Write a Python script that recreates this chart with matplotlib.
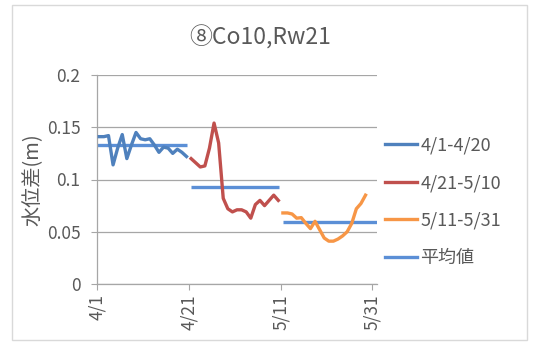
import matplotlib
matplotlib.use("Agg")
import matplotlib.pyplot as plt
from matplotlib.patches import Rectangle
from matplotlib.lines import Line2D
import numpy as np

plt.rcParams['font.family'] = ['Noto Sans CJK JP', 'DejaVu Sans']

title = "⑧Co10,Rw21"
ylabel = "水位差(m)"
series_labels = ["4/1-4/20", "4/21-5/10", "5/11-5/31"]
mean_label = "平均値"

# day offsets from 4/1 of first reading in each period (readings taken mid-day)
period_start = [0, 20, 40]
period_end = [20, 40, 61]

blue_vals = [0.141, 0.141, 0.142, 0.114, 0.130, 0.143, 0.120, 0.133, 0.145, 0.139,
             0.138, 0.139, 0.133, 0.126, 0.131, 0.130, 0.125, 0.129, 0.126, 0.122]
red_vals = [0.120, 0.116, 0.112, 0.113, 0.130, 0.154, 0.135, 0.082, 0.072, 0.069,
            0.071, 0.071, 0.069, 0.063, 0.076, 0.080, 0.075, 0.080, 0.085, 0.080]
orange_vals = [0.068, 0.068, 0.067, 0.063, 0.0635, 0.058, 0.053, 0.060, 0.052, 0.044,
               0.041, 0.041, 0.043, 0.046, 0.050, 0.058, 0.072, 0.077, 0.085]
mean_vals = [0.133, 0.0925, 0.059]

xtick_days = [0, 20, 40, 60]
xtick_labels = ["4/1", "4/21", "5/11", "5/31"]
ytick_vals = [0, 0.05, 0.1, 0.15, 0.2]
ytick_labels = ["0", "0.05", "0.1", "0.15", "0.2"]

colors = ["#4F81BD", "#C0504D", "#F79646"]
mean_color = "#5B8FD6"
text_color = "#595959"
grid_color = "#A6A6A6"

fig = plt.figure(figsize=(5.46, 3.45), dpi=100)
fig.patches.append(Rectangle((12/546, 1-340/345), (527-12)/546, (340-5)/345,
                             transform=fig.transFigure, fill=False,
                             edgecolor="#D9D9D9", linewidth=1.0))

ax = fig.add_axes([97/546, 1-284/345, 280/546, 209/345])

for i, vals in enumerate([blue_vals, red_vals, orange_vals]):
    x = period_start[i] + 0.5 + np.arange(len(vals))
    ax.plot(x, vals, color=colors[i], lw=2.4, solid_joinstyle='round', zorder=3)

for i, m in enumerate(mean_vals):
    ax.plot([period_start[i] + (0.5 if i else 0), period_end[i] - (0.4 if i < 2 else 0)],
            [m, m], color=mean_color, lw=2.4, solid_capstyle='butt', zorder=2)

ax.set_xlim(0, 61)
ax.set_ylim(0, 0.2)
ax.set_xticks(xtick_days)
ax.set_xticklabels(xtick_labels, rotation=90, color=text_color, fontsize=12.5)
ax.set_yticks(ytick_vals)
ax.set_yticklabels(ytick_labels, color=text_color, fontsize=12.5)
ax.tick_params(axis='both', direction='out', length=4, color=grid_color, width=0.8)
ax.tick_params(axis='y', pad=8)
ax.yaxis.grid(True, color=grid_color, lw=0.9)
ax.set_axisbelow(True)
for s in ['top', 'right']:
    ax.spines[s].set_visible(False)
for s in ['left', 'bottom']:
    ax.spines[s].set_color(grid_color)
    ax.spines[s].set_linewidth(0.9)

fig.text(260/546, 1-38/345, title, ha='center', va='center', fontsize=16.5, color=text_color)
fig.text(33/546, 1-180/345, ylabel, ha='center', va='center', rotation=90, fontsize=14.5, color=text_color)

handles = [Line2D([], [], color=c, lw=2.4) for c in colors] + [Line2D([], [], color=mean_color, lw=2.4)]
labels = series_labels + [mean_label]
leg = fig.legend(handles, labels, loc='center left', bbox_to_anchor=(385/546, 1-202/345),
                 frameon=False, fontsize=13, handlelength=1.75, handletextpad=0.2,
                 labelspacing=1.08, borderpad=0, borderaxespad=0, labelcolor=text_color)

fig.savefig("out.png", dpi=100)
